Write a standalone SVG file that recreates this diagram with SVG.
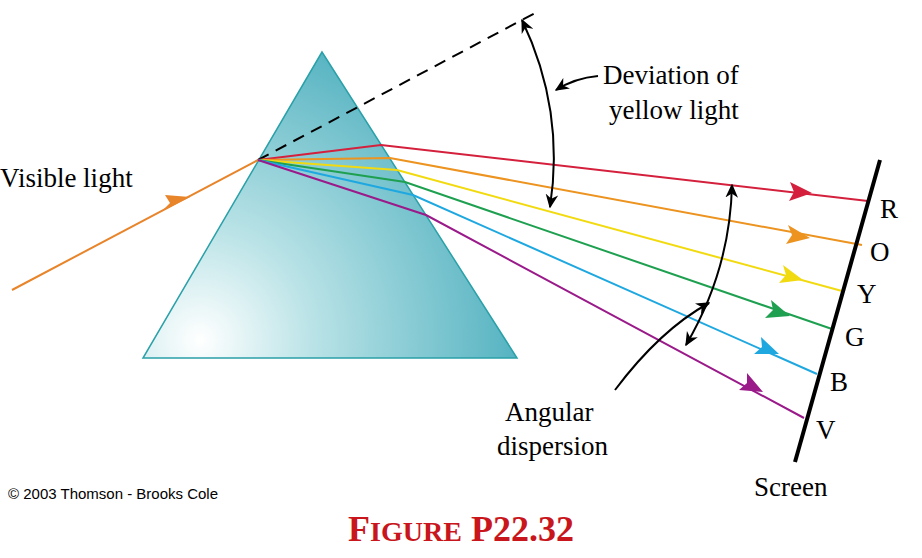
<svg xmlns="http://www.w3.org/2000/svg" width="922" height="558" viewBox="0 0 922 558">
<defs>
<radialGradient id="pg" cx="200" cy="340" r="330" gradientUnits="userSpaceOnUse">
<stop offset="0" stop-color="#ffffff"/><stop offset="0.35" stop-color="#b8e2e6"/><stop offset="1" stop-color="#4fb0bf"/>
</radialGradient>
<marker id="ah" viewBox="0 0 10 10" refX="9" refY="5" markerWidth="14" markerHeight="14" orient="auto-start-reverse" markerUnits="userSpaceOnUse"><path d="M0,0.5 L10,5 L0,9.5 L3,5 Z" fill="#000"/></marker>
</defs>
<style>
.t{font-family:"Liberation Serif",serif;font-size:27px;fill:#000}
.r{fill:none;stroke-width:2}
</style>
<rect width="922" height="558" fill="#fff"/>
<g id="prism"><polygon points="322,52 143,358 517,358" fill="url(#pg)" stroke="#2aa0a8" stroke-width="1.5"/></g>
<g id="connectors">
<line x1="12" y1="290" x2="258" y2="160" stroke="#e8842a" stroke-width="2"/>
<polygon points="190,197 162,211 170,203 165,195" fill="#e8842a"/>
<line x1="258" y1="160" x2="537" y2="12" stroke="#000" stroke-width="2" stroke-dasharray="12,8"/>
<polyline class="r" stroke="#d4203c" points="258,160 381,145 868,201"/>
<polyline class="r" stroke="#ec9320" points="258,160 390,158 862,245"/>
<polyline class="r" stroke="#f2da10" points="258,160 397,170 842,291"/>
<polyline class="r" stroke="#1ea050" points="258,160 405,182 832,329"/>
<polyline class="r" stroke="#1fa8e0" points="258,160 413,195 817,374"/>
<polyline class="r" stroke="#9a1a8a" points="258,160 426,215 804,418"/>
<polygon points="812,193 790,182 794,192 789,201" fill="#d4203c"/>
<polygon points="810,238 788,225 792,235 786,244" fill="#ec9320"/>
<polygon points="803,280 783,265 786,275 779,283" fill="#f2da10"/>
<polygon points="790,316 771,300 773,310 765,318" fill="#1ea050"/>
<polygon points="779,354 761,337 762,347 754,354" fill="#1fa8e0"/>
<polygon points="763,392 747,373 747,383 739,390" fill="#9a1a8a"/>
<line x1="880" y1="160" x2="795" y2="462" stroke="#000" stroke-width="4"/>
<path d="M522,20 Q565,110 550,207" fill="none" stroke="#000" stroke-width="2" marker-start="url(#ah)" marker-end="url(#ah)"/>
<path d="M598,76 Q575,78 556,90" fill="none" stroke="#000" stroke-width="2" marker-end="url(#ah)"/>
<path d="M732,185 Q730,270 686,345" fill="none" stroke="#000" stroke-width="2" marker-start="url(#ah)" marker-end="url(#ah)"/>
<path d="M615,390 Q660,330 709,303" fill="none" stroke="#000" stroke-width="2" marker-end="url(#ah)"/>
</g>
<g id="labels">
<text class="t" x="0" y="187">Visible light</text>
<text class="t" x="603" y="84">Deviation of</text>
<text class="t" x="609" y="119">yellow light</text>
<text class="t" x="505" y="421">Angular</text>
<text class="t" x="497" y="455">dispersion</text>
<text class="t" x="880" y="218">R</text>
<text class="t" x="870" y="261">O</text>
<text class="t" x="857" y="303">Y</text>
<text class="t" x="845" y="346">G</text>
<text class="t" x="830" y="391">B</text>
<text class="t" x="816" y="439">V</text>
<text class="t" x="754" y="496">Screen</text>
<text x="8" y="499" font-family="Liberation Sans,sans-serif" font-size="15" fill="#000">© 2003 Thomson - Brooks Cole</text>
<text x="461" y="541" text-anchor="middle" font-family="Liberation Serif,serif" font-weight="bold" fill="#c8161c" font-size="36">F<tspan font-size="28">IGURE</tspan> P22.32</text>
</g>
</svg>
